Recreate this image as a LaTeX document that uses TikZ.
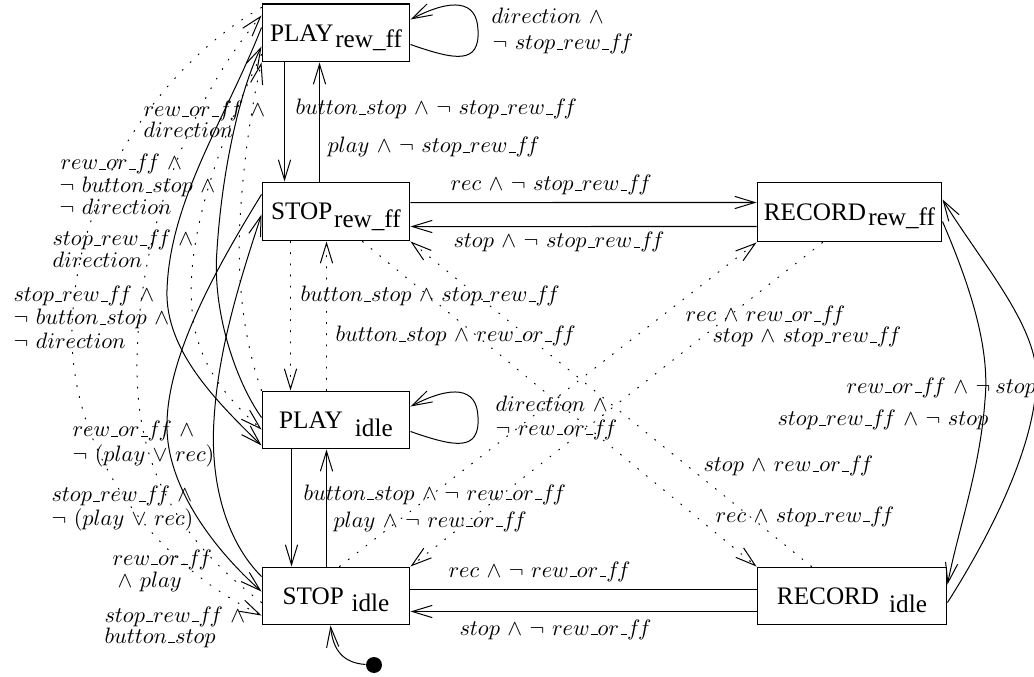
\documentclass[tikz,border=0pt]{standalone}
\usepackage{fontspec}
\newfontfamily\boxfont{Liberation Serif}
\usetikzlibrary{arrows.meta,calc}
% narrow underscore rule and the signal names used in the guards
\newcommand\us{\kern.06em\vbox{\hrule width.3em}}
\newcommand\vff{f\mkern-2mu f}
\newcommand\vRewOrFf{rew\us or\us\vff}
\newcommand\vStopRewFf{stop\us rew\us\vff}
\newcommand\vButtonStop{button\us stop}
\begin{document}
\begin{tikzpicture}[x=0.01576cm, y=-0.01576cm,
  line width=0.45pt,
  >={Straight Barb[length=9pt,width=5.5pt]},
  box/.style={draw, rectangle, inner sep=0pt, text height=7.2pt, text depth=0pt,
    font=\boxfont\fontsize{11.3}{13}\selectfont},
  lab/.style={anchor=base west, inner sep=0pt},
  dotline/.style={dash pattern=on 0.5pt off 4.5pt, line cap=round}]
\useasboundingbox (0,0) rectangle (1034,677);

% states
\node[box, minimum width=2.3325cm, minimum height=0.9141cm] (prf) at (336,33)
  {PLAY\kern0.8pt\raisebox{-2.8pt}{rew\_ff}};
\node[box, minimum width=2.3325cm, minimum height=0.9298cm] (srf) at (336,211.5)
  {STOP\kern0.8pt\raisebox{-3.5pt}{rew\_ff}};
\node[box, minimum width=2.9156cm, minimum height=0.9456cm] (rrf) at (849.5,212)
  {RECORD\kern1pt\raisebox{-2.5pt}{rew\_ff}};
\node[box, minimum width=2.3325cm, minimum height=0.9141cm] (pid) at (336,420)
  {PLAY\hspace{5.5pt}\raisebox{-3.6pt}{idle}};
\node[box, minimum width=2.3325cm, minimum height=0.9141cm] (sid) at (336,596)
  {STOP\hspace{3.5pt}\raisebox{-3.2pt}{idle}};
\node[box, minimum width=2.9944cm, minimum height=0.9141cm] (rid) at (852,596)
  {RECORD\hspace{4.5pt}\raisebox{-3.6pt}{idle}};
\node[circle, fill, inner sep=0pt, minimum size=0.2522cm] (init) at (374,665) {};

% initial transition
\draw[->] (init) .. controls (343,663) and (333,650) .. ($(sid.south west)+(69,0)$);

% vertical transitions in the left column
\draw[->] ($(prf.south west)+(23,0)$) -- ($(srf.north west)+(23,0)$);
\draw[->] ($(srf.north west)+(58,0)$) -- ($(prf.south west)+(58,0)$);
\draw[dotline,->] ($(srf.south west)+(29,0)$) -- ($(pid.north west)+(29,0)$);
\draw[dotline,->] ($(pid.north west)+(65,0)$) -- ($(srf.south west)+(65,0)$);
\draw[->] ($(pid.south west)+(30,0)$) -- ($(sid.north west)+(30,0)$);
\draw[->] ($(sid.north west)+(65,0)$) -- ($(pid.south west)+(65,0)$);

% horizontal transitions
\draw[->] ($(srf.north east)+(0,21)$) -- ($(rrf.north west)+(0,21)$);
\draw[->] ($(rrf.north west)+(0,45)$) -- ($(srf.north east)+(0,45)$);
\draw ($(sid.north east)+(0,23)$) -- ($(rid.north west)+(0,23)$);
\draw[->] ($(rid.north west)+(0,45)$) -- ($(sid.north east)+(0,45)$);

% diagonal transitions
\draw[dotline,->] ($(srf.south west)+(101,0)$) -- (rid.north west);
\draw[dotline,->] ($(rid.north west)+(55,0)$) -- (srf.south east);
\draw[dotline,->] ($(sid.north west)+(78,0)$) -- (rrf.south west);
\draw[dotline,->] ($(rrf.south west)+(66,0)$) -- (sid.north east);

% self loops
\draw[->] ($(prf.north east)+(0,41)$) .. controls (455,60) and (480,65) .. (478,30)
  .. controls (477,0) and (452,-2) .. ($(prf.north east)+(0,16)$);
\draw[->] ($(pid.north east)+(0,41)$) .. controls (455,447) and (480,452) .. (478,417)
  .. controls (477,387) and (452,385) .. ($(pid.north east)+(0,16)$);

% RECORD states
\draw[->] ($(rrf.north east)+(0,40)$) .. controls (972,290) and (990,350) .. (985,400)
  .. controls (980,470) and (958,530) .. ($(rid.north east)+(0,18)$);
\draw[->] ($(rid.north east)+(0,36)$) .. controls (1000,520) and (1040,430) .. (1036,370)
  .. controls (1032,320) and (980,260) .. ($(rrf.north east)+(0,18)$);

% curved transitions on the left
\draw[->] ($(prf.north west)+(0,24)$) .. controls (225,120) and (170,200) .. (167,290)
  .. controls (165,350) and (215,400) .. ($(pid.north west)+(0,55)$);
\draw[->] ($(pid.north west)+(0,27)$) .. controls (235,380) and (212,310) .. (217,250)
  .. controls (222,170) and (240,90) .. ($(prf.north west)+(0,43)$);
\draw[->] ($(srf.north west)+(0,13)$) .. controls (215,270) and (165,360) .. (167,430)
  .. controls (169,490) and (215,550) .. ($(sid.north west)+(0,25)$);
\draw[->] ($(sid.north west)+(0,10)$) .. controls (225,540) and (210,480) .. (214,420)
  .. controls (218,350) and (240,280) .. ($(srf.north west)+(0,33)$);
\draw[dotline,->] ($(prf.north west)+(0,4)$) .. controls (170,60) and (75,180) .. (72,330)
  .. controls (70,450) and (150,560) .. ($(sid.north west)+(0,49)$);
\draw[dotline,->] ($(sid.north west)+(0,36)$) .. controls (180,540) and (135,470) .. (137,360)
  .. controls (139,230) and (190,100) .. ($(prf.north west)+(0,12)$);
\draw[dotline,->] ($(prf.north west)+(0,51)$) .. controls (225,130) and (185,230) .. (192,310)
  .. controls (197,370) and (235,405) .. ($(pid.north west)+(0,39)$);
\draw[dotline,->] (pid.north west) .. controls (247,350) and (236,290) .. (240,220)
  .. controls (244,150) and (254,95) .. (prf.south west);

% guards
\node[lab] (g1a) at (491,24) {$direction$ $\wedge$};
\node[lab] (g1b) at (492,50) {$\neg$ $\vStopRewFf$};
\node[lab] (g2) at (295,115) {$\vButtonStop$ $\wedge$ $\neg$ $\vStopRewFf$};
\node[lab] (g3) at (327,153) {$play$ $\wedge$ $\neg$ $\vStopRewFf$};
\node[lab] (g4) at (450,191) {$rec$ $\wedge$ $\neg$ $\vStopRewFf$};
\node[lab] (g5) at (453,248) {$stop$ $\wedge$ $\neg$ $\vStopRewFf$};
\node[lab] (g6) at (300,302) {$\vButtonStop$ $\wedge$ $\vStopRewFf$};
\node[lab] (g7) at (335,342) {$\vButtonStop$ $\wedge$ $\vRewOrFf$};
\node[lab] (g8) at (685,322) {$rec$ $\wedge$ $\vRewOrFf$};
\node[lab] (g9) at (712,343) {$stop$ $\wedge$ $\vStopRewFf$};
\node[lab] (g10a) at (495,412) {$direction$ $\wedge$};
\node[lab] (g10b) at (495,435) {$\neg$ $\vRewOrFf$};
\node[lab] (g11) at (846,393) {$\vRewOrFf\mkern2mu\wedge\mkern2mu\neg\mkern4mu stop$};
\node[lab] (g12) at (777,426) {$\vStopRewFf$ $\wedge$ $\neg$ $stop$};
\node[lab] (g13) at (703,472) {$stop$ $\wedge$ $\vRewOrFf$};
\node[lab] (g14) at (715,522) {$rec$ $\wedge$ $\vStopRewFf$};
\node[lab] (g15) at (303,500) {$\vButtonStop$ $\wedge$ $\neg$ $\vRewOrFf$};
\node[lab] (g16) at (333,527) {$play$ $\wedge$ $\neg$ $\vRewOrFf$};
\node[lab] (g17) at (448,577) {$rec$ $\wedge$ $\neg$ $\vRewOrFf$};
\node[lab] (g18) at (459,635) {$stop$ $\wedge$ $\neg$ $\vRewOrFf$};

\node[lab] (ha1) at (143,117) {$\vRewOrFf$ $\wedge$};
\node[lab] (ha2) at (143,138) {$direction$};
\node[lab] (hb1) at (60,170) {$\vRewOrFf$ $\wedge$};
\node[lab] (hb2) at (59,193) {$\neg$ $\vButtonStop$ $\wedge$};
\node[lab] (hb3) at (59,215) {$\neg$ $direction$};
\node[lab] (hc1) at (52,246) {$\vStopRewFf$ $\wedge$};
\node[lab] (hc2) at (52,268) {$direction$};
\node[lab] (hd1) at (13,302) {$\vStopRewFf$ $\wedge$};
\node[lab] (hd2) at (13,325) {$\neg$ $\vButtonStop$ $\wedge$};
\node[lab] (hd3) at (13,348) {$\neg$ $direction$};
\node[lab] (he1) at (72,437) {$\vRewOrFf$ $\wedge$};
\node[lab] (he2) at (72,462) {$\neg$ $(play$ $\vee$ $rec)$};
\node[lab] (hf1) at (51,502) {$\vStopRewFf$ $\wedge$};
\node[lab] (hf2) at (51,525) {$\neg$ $(play$ $\vee$ $rec)$};
\node[lab] (hg1) at (112,565) {$\vRewOrFf$};
\node[lab] (hg2) at (117,587) {$\wedge$ $play$};
\node[lab] (hh1) at (104,622) {$\vStopRewFf$ $\wedge$};
\node[lab] (hh2) at (104,643) {$\vButtonStop$};
\end{tikzpicture}
\end{document}
